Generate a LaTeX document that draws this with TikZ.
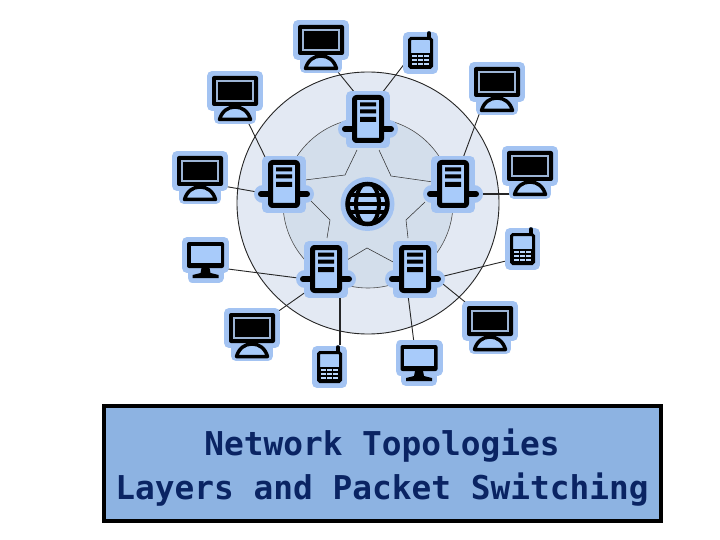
\documentclass[tikz,border=0pt]{standalone}
\usepackage{fontspec}
\newfontfamily\monob{DejaVu Sans Mono}
\definecolor{halo}{HTML}{A3C3F2}
\definecolor{devfill}{HTML}{A8CBFA}
\definecolor{outerd}{HTML}{E3E9F3}
\definecolor{innerd}{HTML}{D3DEEB}
\definecolor{boxfill}{HTML}{8DB3E2}
\definecolor{txt}{HTML}{0A2463}
\tikzset{
  x=1pt,y=-1pt,
  wire/.style={draw=black!85,line width=0.9pt},
  thinwire/.style={draw=black!80,line width=0.55pt},
  port/.style={inner sep=0pt,outer sep=0pt,minimum size=1pt,shape=coordinate},
  haloline/.style={draw=halo,fill=halo,line width=10pt,line join=round,line cap=round},
  haloarm/.style={draw=halo,line width=18pt,line cap=round},
  blk/.style={draw=black,line width=5pt,line join=round},
  pics/server/.style={code={
    \draw[haloline] (-17,1) rectangle (17,48);
    \draw[haloarm] (-21,34) -- (21,34);
    \draw[black,line width=6pt,line cap=round] (-23,34) -- (23,34);
    \draw[blk,fill=devfill,rounded corners=2pt] (-13.5,2.5) rectangle (13.5,45.5);
    \fill[black] (-8,7.5) rectangle (8,11.5) (-8,14.5) rectangle (8,18.5) (-8,22) rectangle (8,27);
  }},
  pics/pc/.style={code={
    \draw[haloline] (-23,0) rectangle (23,30);
    \draw[haloline] (-16,30) rectangle (16,43);
    \fill[black,rounded corners=2pt] (-23,0) rectangle (23,30);
    \fill[devfill!70!gray] (-19,4) rectangle (19,26);
    \fill[black] (-17,6) rectangle (17,24);
    \draw[black,line width=3.5pt,fill=devfill,line join=round] (-15.5,43.5) .. controls (-13,35) and (-7,31) .. (0,31) .. controls (7,31) and (13,35) .. (15.5,43.5) -- cycle;
  }},
  pics/screen/.style={code={
    \draw[haloline] (-18.5,0) rectangle (18.5,26);
    \draw[haloline] (-13,28) rectangle (13,36);
    \fill[black,rounded corners=2pt] (-18.5,0) rectangle (18.5,26);
    \fill[devfill] (-15,4) rectangle (15,21);
    \fill[black] (-4,26) -- (4,26) -- (5,31) -- (13,33) -- (13,36) -- (-13,36) -- (-13,33) -- (-5,31) -- cycle;
  }},
  pics/phone/.style={code={
    \draw[haloline] (0,0) rectangle (25,32);
    \draw[halo,line width=10pt,line cap=round] (21,-1) -- (21,8);
    \draw[black,line width=3.5pt,line cap=round] (21,-4) -- (21,2);
    \draw[black,line width=3pt,fill=devfill,rounded corners=1.5pt] (1.5,1.5) rectangle (23.5,30.5);
    \fill[black] (1.5,16) rectangle (23.5,30.5);
    \foreach \r in {0,1,2}\foreach \c in {0,1,2}{
      \fill[devfill!80!white] ({4.2+\c*6},{18+\r*3.9}) rectangle ++(4.6,2.3);
    }
  }},
}
\begin{document}
\begin{tikzpicture}
\useasboundingbox (0,0) rectangle (720,540);
% discs
\node[circle,draw=black!85,line width=0.9pt,fill=outerd,minimum size=262pt,inner sep=0pt] (outer) at (368,203) {};
\node[circle,draw=black!70,line width=0.6pt,fill=innerd,minimum size=170pt,inner sep=0pt] (inner) at (368,203) {};
% device anchors
\node[port] (svT) at (368,119) {};
\node[port] (svL) at (284,184) {};
\node[port] (svR) at (453,184) {};
\node[port] (svA) at (326,269) {};
\node[port] (svB) at (415,269) {};
\node[port] (globe) at (367.5,204) {};
\node[port] (pc1) at (321,47) {};
\node[port] (pc2) at (235,98) {};
\node[port] (pc3) at (200,178) {};
\node[port] (pc4) at (497,89) {};
\node[port] (pc5) at (530,173) {};
\node[port] (pc6) at (252,335) {};
\node[port] (pc7) at (490,328) {};
\node[port] (sc1) at (205,260) {};
\node[port] (sc2) at (419,363) {};
\node[port] (ph1) at (420,53) {};
\node[port] (ph2) at (522,249) {};
\node[port] (ph3) at (329,367) {};
% ring links between servers
\draw[thinwire] ([shift={(-11,31)}]svT) -- (345,175) -- ([shift={(21,-4)}]svL);
\draw[thinwire] ([shift={(11,31)}]svT) -- (391,176) -- ([shift={(-20,-2)}]svR);
\draw[thinwire] ([shift={(-28,18)}]svR) -- (406,220) -- ([shift={(-7,-31)}]svB);
\draw[thinwire] ([shift={(21,-9)}]svA) -- (367,248) -- ([shift={(-20,-6)}]svB);
\draw[thinwire] ([shift={(26,16)}]svL) -- (330,220) -- ([shift={(1,-31)}]svA);
% outer links
\draw[wire] ([shift={(17,25)}]pc1) -- ([shift={(-13,-26)}]svT);
\draw[wire] ([shift={(-15,10)}]ph1) -- ([shift={(14,-26)}]svT);
\draw[wire] ([shift={(12,22)}]pc2) -- ([shift={(-16,-21)}]svL);
\draw[wire] ([shift={(23,8)}]pc3) -- ([shift={(-27,8)}]svL);
\draw[wire] ([shift={(-17,23)}]pc4) -- ([shift={(10,-26)}]svR);
\draw[wire,line width=1.2pt] ([shift={(-17,21)}]pc5) -- ([shift={(25,10)}]svR);
\draw[wire] ([shift={(21,-20)}]pc6) -- ([shift={(-16,20)}]svA);
\draw[wire] ([shift={(23,9)}]sc1) -- ([shift={(-28,9)}]svA);
\draw[wire,line width=1.2pt] ([shift={(11,-22)}]ph3) -- ([shift={(14,23)}]svA);
\draw[wire] ([shift={(-5,-20)}]sc2) -- ([shift={(-7,26)}]svB);
\draw[wire] ([shift={(-12,11)}]ph2) -- ([shift={(25,8)}]svB);
\draw[wire] ([shift={(-20,-22)}]pc7) -- ([shift={(23,11)}]svB);
% globe
\fill[halo] (globe) circle (27);
\begin{scope}
\clip (globe) circle (21);
\fill[devfill] (globe) circle (21);
\draw[black,line width=4pt] (globe) ellipse [x radius=11.5,y radius=21];
\foreach \d in {-8.5,0,8.5} \draw[black,line width=4pt] ([shift={(-22,\d)}]globe) -- ([shift={(22,\d)}]globe);
\end{scope}
\draw[black,line width=4.5pt] (globe) circle (20);
% servers
\path (368,95) pic {server} (284,160) pic {server} (453,160) pic {server} (326,245) pic {server} (415,245) pic {server};
% computers
\path (321,25) pic {pc} (235,76) pic {pc} (200,156) pic {pc} (497,67) pic {pc} (530,151) pic {pc} (252,313) pic {pc} (490,306) pic {pc};
% screens
\path (205.5,242) pic {screen} (419,345) pic {screen};
% phones
\path (408,37) pic {phone} (510,233) pic {phone} (317,351) pic {phone};
% title box
\node[draw=black,line width=4.5pt,fill=boxfill,minimum width=557pt,minimum height=115pt,inner sep=0pt] (title) at (382.5,463.5) {};
\node[text=txt,font=\monob\bfseries\fontsize{32.8}{36}\selectfont,inner sep=0pt] (l1) at (382,446) {Network Topologies};
\node[text=txt,font=\monob\bfseries\fontsize{32.8}{36}\selectfont,inner sep=0pt] (l2) at (382,490) {Layers and Packet Switching};
\end{tikzpicture}
\end{document}
